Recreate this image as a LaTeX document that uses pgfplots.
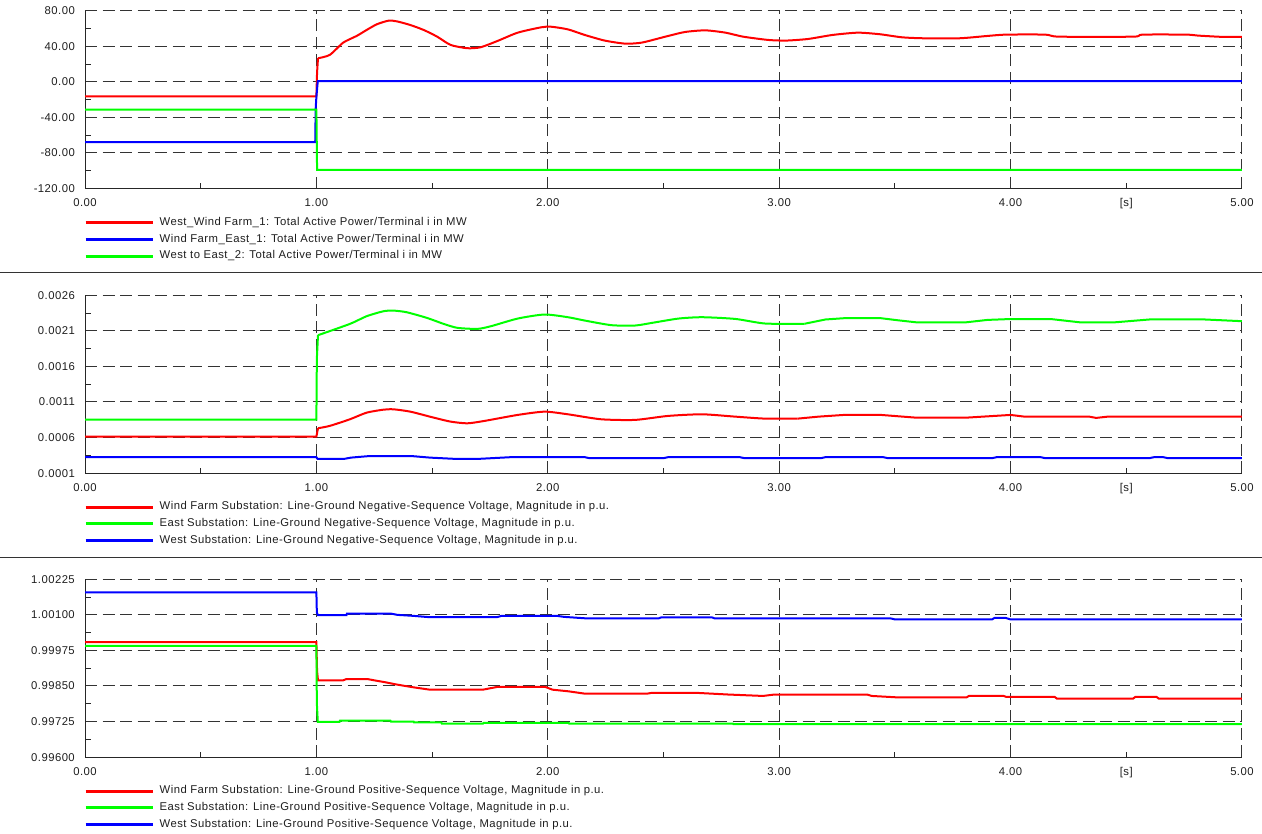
\documentclass[border=0pt]{standalone}
\usepackage{fontspec}
\setmainfont{Liberation Sans}[LetterSpace=4]
\usepackage{pgfplots}
\pgfplotsset{compat=1.18}
\newcommand\cf{\fontsize{11.3bp}{13bp}\selectfont}
\definecolor{txt}{RGB}{30,30,30}
\definecolor{pr}{RGB}{255,0,0}
\definecolor{pg}{RGB}{0,255,0}
\definecolor{pb}{RGB}{0,0,255}
\pgfplotsset{
  panel/.style={
    scale only axis, width=1157bp, height=177.8bp, anchor=north west,
    xmin=0, xmax=5, scaled y ticks=false, scaled x ticks=false,
    axis x line=bottom, axis y line=left,
    axis line style={-, black!85, line width=1bp},
    tick align=inside,
    xtick={0,1,2,3,4,5},
    xticklabels={0.00,1.00,2.00,3.00,4.00,5.00},
    minor xtick={0.5,1.5,2.5,3.5},
    minor y tick num=1,
    extra x ticks={4.5}, extra x tick labels={[s]},
    extra x tick style={grid=none, major tick length=5.5bp},
    major tick length=0bp, minor tick length=5.5bp,
    every tick/.style={black!85, line width=1bp},
    grid=major,
    major grid style={dash pattern=on 12bp off 5.5bp, black!80, line width=1bp},
    xticklabel style={font=\cf, text=txt, anchor=north, inner sep=0pt, text height=8bp, text depth=0pt, yshift=-10.2bp},
    yticklabel style={font=\cf, text=txt, anchor=east, inner sep=0pt, text height=8bp, text depth=0pt, xshift=-10bp},
    legend style={at={(0,0)}, anchor=north west, xshift=-1bp, yshift=-28.5bp, draw=none, fill=none,
       inner sep=0pt, inner xsep=0pt, inner ysep=0pt, row sep=6.3bp, font=\cf, text=txt,
       nodes={inner sep=0pt, text height=8bp, text depth=2.5bp}},
    legend cell align=left,
    legend image code/.code={\draw[##1, line width=3bp] (0bp,0bp) -- (67bp,0bp); \path (73bp,0bp);},
    every axis plot/.append style={line width=2bp, mark=none},
  }
}
\begin{document}
\begin{tikzpicture}
\useasboundingbox (0,0) rectangle (1262bp,-834bp);
\draw[black!80, line width=1bp] (0bp,-272.7bp) -- (1262bp,-272.7bp);
\draw[black!80, line width=1bp] (0bp,-557.3bp) -- (1262bp,-557.3bp);
% ---------------- Panel 1 ----------------
\begin{axis}[panel, at={(85bp,-10.7bp)},
  ymin=-120, ymax=80, ytick={-120,-80,-40,0,40,80},
  yticklabels={-120.00,-80.00,-40.00,0.00,40.00,80.00}]
\addplot[pr] coordinates {
(0,-16.4) (1.0,-16.4) (1.003,11) (1.007,26.5)};
\addlegendentry{West\_Wind Farm\_1: Total Active Power/Terminal i in MW}
\addplot[pr, smooth, tension=0.4, forget plot] coordinates {
(1.007,26.5) (1.058,30.3) (1.116,44.1) (1.174,51.6)
(1.217,58.3) (1.261,64.7) (1.312,68.8) (1.348,68.0) (1.406,63.9) (1.464,58.3)
(1.522,50.8) (1.58,41.5) (1.652,37.8) (1.71,38.9) (1.783,46.0) (1.87,55.3)
(1.971,61.3) (2.014,62.0) (2.087,59.0) (2.16,52.7) (2.246,46.4) (2.333,43.0)
(2.406,44.1) (2.52,51.6) (2.594,56.1) (2.681,57.9) (2.768,55.3) (2.844,50.8)
(2.953,47.1) (3.03,46.4) (3.125,48.2) (3.23,52.7) (3.34,55.3) (3.436,53.5)
(3.53,50.1) (3.62,49.0) (3.78,49.0) (3.9,51.6) (3.98,53.1) (4.15,53.1)
(4.21,50.8) (4.53,50.8) (4.57,53.1) (4.76,53.1) (4.81,52.0) (4.92,50.5) (5.0,50.5)};
\addplot[pb] coordinates {
(0,-67.7) (0.995,-67.7) (0.997,-30) (1.0,-17) (1.006,0.8) (5.0,0.8)};
\addlegendentry{Wind Farm\_East\_1: Total Active Power/Terminal i in MW}
\addplot[pg] coordinates {
(0,-31.4) (1.0,-31.4) (1.003,-99.1) (5.0,-99.1)};
\addlegendentry{West to East\_2: Total Active Power/Terminal i in MW}
\end{axis}
% ---------------- Panel 2 ----------------
\begin{axis}[panel, at={(85bp,-295.3bp)},
  ymin=0.0001, ymax=0.0026, ytick={0.0001,0.0006,0.0011,0.0016,0.0021,0.0026},
  yticklabels={0.0001,0.0006,0.0011,0.0016,0.0021,0.0026}]
\addplot[pr] coordinates {
(0,0.000614) (1.0,0.000614) (1.007,0.000731)};
\addlegendentry{Wind Farm Substation: Line-Ground Negative-Sequence Voltage, Magnitude in p.u.}
\addplot[pr, smooth, tension=0.4, forget plot] coordinates {
(1.007,0.000731) (1.058,0.000764) (1.145,0.000857)
(1.217,0.00095) (1.29,0.000992) (1.333,0.000997) (1.406,0.000964) (1.507,0.00088)
(1.58,0.000824) (1.652,0.0008) (1.725,0.000833) (1.87,0.000918) (1.986,0.000964)
(2.087,0.000927) (2.23,0.000857) (2.377,0.000848) (2.52,0.000904) (2.667,0.000927)
(2.81,0.000894) (2.94,0.000866) (3.08,0.000866)};
\addplot[pr, forget plot] coordinates {
(3.08,0.000866) (3.17,0.000894) (3.28,0.000918)
(3.44,0.000918) (3.59,0.00088) (3.81,0.00088) (4.0,0.000918) (4.06,0.000894)
(4.34,0.000894) (4.37,0.000876) (4.42,0.000894) (5.0,0.000894)};
\addplot[pg] coordinates {
(0,0.000852) (1.0,0.000852) (1.002,0.00171) (1.007,0.002039)};
\addlegendentry{East Substation: Line-Ground Negative-Sequence Voltage, Magnitude in p.u.}
\addplot[pg, smooth, tension=0.4, forget plot] coordinates {
(1.007,0.002039) (1.145,0.002198)
(1.217,0.002306) (1.29,0.002376) (1.333,0.002385) (1.39,0.002362) (1.478,0.002282)
(1.55,0.002198) (1.61,0.002142) (1.696,0.002128) (1.754,0.002165) (1.87,0.002273)
(1.986,0.00233) (2.087,0.002292) (2.16,0.002245) (2.275,0.00218) (2.377,0.002175)
(2.45,0.002212) (2.565,0.002273) (2.667,0.002292) (2.81,0.002268) (2.94,0.002203)
(3.11,0.0022)};
\addplot[pg, forget plot] coordinates {
(3.11,0.0022) (3.2,0.00226) (3.28,0.002278) (3.44,0.002278) (3.51,0.00225)
(3.59,0.002221) (3.81,0.002221) (3.9,0.002254) (3.98,0.002264) (4.18,0.002264)
(4.30,0.00222) (4.45,0.00222) (4.6,0.00226) (4.84,0.00226) (5.0,0.002236)};
\addplot[pb] coordinates {
(0,0.000324) (1.0,0.000324) (1.005,0.0003) (1.12,0.0003) (1.15,0.000318)
(1.23,0.00034) (1.41,0.00034) (1.49,0.000318) (1.6,0.0003) (1.7,0.0003)
(1.84,0.000324) (2.16,0.000324) (2.18,0.00031) (2.5,0.00031) (2.52,0.000324)
(2.83,0.000324) (2.85,0.00031) (3.18,0.00031) (3.2,0.000324) (3.45,0.000324)
(3.47,0.00031) (3.92,0.00031) (3.94,0.000324) (4.13,0.000324) (4.15,0.00031)
(4.6,0.00031) (4.62,0.000324) (4.66,0.000324) (4.68,0.00031) (5.0,0.00031)};
\addlegendentry{West Substation: Line-Ground Negative-Sequence Voltage, Magnitude in p.u.}
\end{axis}
% ---------------- Panel 3 ----------------
\begin{axis}[panel, at={(85bp,-579.3bp)},
  ymin=0.996, ymax=1.00225, ytick={0.996,0.99725,0.9985,0.99975,1.001,1.00225},
  yticklabels={0.99600,0.99725,0.99850,0.99975,1.00100,1.00225}]
\addplot[pr] coordinates {
(0,1.000044) (1.0,1.000044) (1.003,0.999014) (1.007,0.998699) (1.116,0.998699)
(1.13,0.998745) (1.22,0.998745) (1.25,0.998699) (1.30,0.998628) (1.35,0.998547)
(1.41,0.998465) (1.49,0.998371) (1.72,0.998371) (1.75,0.998418) (1.78,0.998465)
(1.99,0.998465) (2.02,0.998371) (2.09,0.998312) (2.16,0.998231) (2.43,0.998231)
(2.45,0.99826) (2.64,0.99826) (2.78,0.9982) (2.93,0.99815) (2.98,0.9982)
(3.38,0.9982) (3.40,0.99815) (3.51,0.9981) (3.81,0.9981) (3.82,0.99815)
(3.97,0.99815) (3.98,0.99812) (4.19,0.99812) (4.2,0.99806) (4.53,0.99806)
(4.54,0.99812) (4.63,0.99812) (4.64,0.99806) (5.0,0.99806)};
\addlegendentry{Wind Farm Substation: Line-Ground Positive-Sequence Voltage, Magnitude in p.u.}
\addplot[pg] coordinates {
(0,0.999914) (1.0,0.999914) (1.002,0.9979) (1.006,0.99724) (1.1,0.99724)
(1.102,0.99728) (1.32,0.99728) (1.322,0.99725) (1.42,0.99725) (1.422,0.99722)
(1.54,0.99722) (1.542,0.99718) (1.72,0.99718) (1.722,0.9972) (2.09,0.9972)
(2.092,0.99718) (2.8,0.99718) (2.802,0.99716) (5.0,0.99716)};
\addlegendentry{East Substation: Line-Ground Positive-Sequence Voltage, Magnitude in p.u.}
\addplot[pb] coordinates {
(0,1.001794) (1.0,1.001794) (1.002,1.00108) (1.007,1.000988) (1.13,1.000988)
(1.132,1.001047) (1.32,1.001047) (1.35,1.001) (1.42,1.000965) (1.49,1.000918)
(1.78,1.000918) (1.80,1.000965) (2.04,1.000965) (2.07,1.00093) (2.16,1.00088)
(2.48,1.00088) (2.49,1.00091) (2.71,1.00091) (2.72,1.00088) (3.48,1.00088)
(3.5,1.00084) (3.92,1.00084) (3.93,1.00089) (3.98,1.00089) (4.0,1.00084) (5.0,1.00084)};
\addlegendentry{West Substation: Line-Ground Positive-Sequence Voltage, Magnitude in p.u.}
\end{axis}
\end{tikzpicture}
\end{document}
